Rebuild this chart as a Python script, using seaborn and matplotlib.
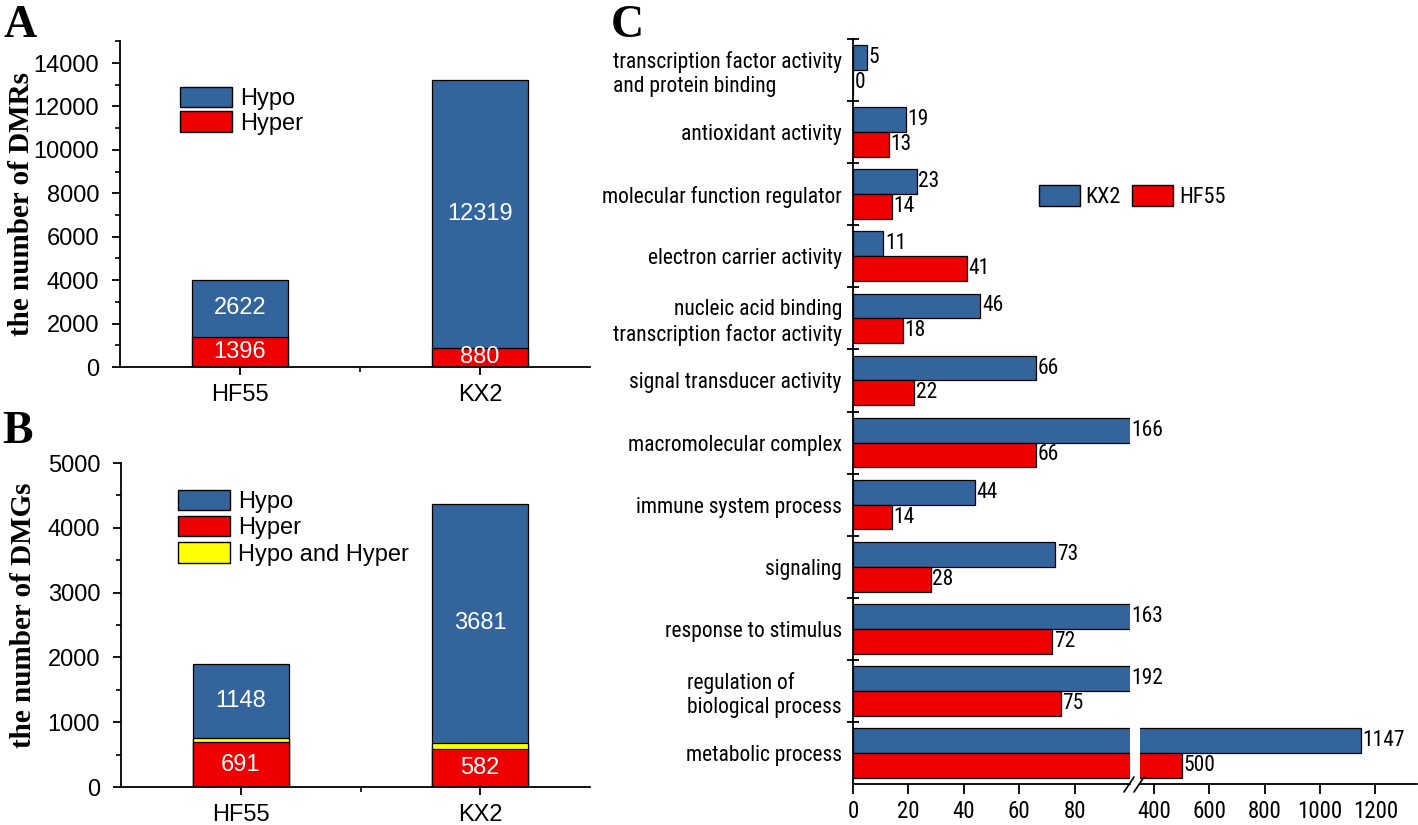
import matplotlib
matplotlib.use('Agg')
import matplotlib.pyplot as plt
import seaborn as sns
import pandas as pd
from matplotlib import font_manager
from matplotlib.font_manager import FontProperties
from matplotlib.patches import Patch
from matplotlib.lines import Line2D
from matplotlib.ticker import MultipleLocator, FixedLocator

sns.set_theme(style='ticks')
plt.rcParams['font.family'] = ['Liberation Sans', 'DejaVu Sans']
for k in ['text.color', 'axes.labelcolor', 'xtick.color', 'ytick.color', 'axes.edgecolor']:
    plt.rcParams[k] = 'black'

# ---------------- data ----------------
samples = ['HF55', 'KX2']
dmr_hypo = [2622, 12319]
dmr_hyper = [1396, 880]

dmg_hypo = [1148, 3681]
dmg_hyper = [691, 582]
dmg_both = [58, 104]

go_terms = [
    'transcription factor activity\nand protein binding',
    'antioxidant activity',
    'molecular function regulator',
    'electron carrier activity',
    'nucleic acid binding\ntranscription factor activity',
    'signal transducer activity',
    'macromolecular complex',
    'immune system process',
    'signaling',
    'response to stimulus',
    'regulation of\nbiological process',
    'metabolic process',
]
go_kx2 = [5, 19, 23, 11, 46, 66, 166, 44, 73, 163, 192, 1147]
go_hf55 = [0, 13, 14, 41, 18, 22, 66, 14, 28, 72, 75, 500]

BLUE = '#34649c'
RED = '#ee0000'
YELLOW = '#ffff00'
SERIF = ['Liberation Serif', 'DejaVu Serif']
FS = 17


# choose a narrow sans font for panel C if one is installed
def pick_narrow():
    prefs = ['liberationsansnarrow-regular', 'arialnarrow', 'arialn.ttf',
             'robotocondensed-regular', 'notosans-condensed.ttf', 'notosans-condensed-regular',
             'opensans_condensed-regular', 'opensans-condensedregular', 'dejavusanscondensed.ttf']
    files = [f.fname for f in font_manager.fontManager.ttflist]
    for p in prefs:
        for fn in files:
            if p in fn.lower().replace(' ', ''):
                return fn
    for fn in files:
        low = fn.lower()
        if ('narrow' in low or 'condensed' in low) and 'bold' not in low and 'italic' not in low \
                and 'semi' not in low and 'extra' not in low and 'light' not in low \
                and 'mono' not in low and 'serif' not in low and 'cjk' not in low \
                and 'medium' not in low and 'thin' not in low and 'black' not in low:
            return fn
    return None


narrow_file = pick_narrow()
if narrow_file:
    CFONT = FontProperties(fname=narrow_file, size=15.5)     # category labels
    CTICK = FontProperties(fname=narrow_file, size=16.5)     # x tick labels
    CVAL = FontProperties(fname=narrow_file, size=15.5)      # value labels
    CLEG = FontProperties(fname=narrow_file, size=16)        # legend
else:
    CFONT = FontProperties(family='Liberation Sans', size=13)
    CTICK = FontProperties(family='Liberation Sans', size=14)
    CVAL = FontProperties(family='Liberation Sans', size=13)
    CLEG = FontProperties(family='Liberation Sans', size=13.5)

W, H = 1418, 825
fig = plt.figure(figsize=(W / 100, H / 100), dpi=100)


def px_axes(l, t, r, b):
    return fig.add_axes([l / W, 1 - b / H, (r - l) / W, (b - t) / H])


def style_stack_axes(ax, ymax, major, minor):
    ax.set_xlim(-0.5, 1.458)
    ax.set_ylim(0, ymax)
    ax.set_xticks([0, 1], labels=samples)
    ax.xaxis.set_minor_locator(FixedLocator([0.5]))
    ax.yaxis.set_major_locator(MultipleLocator(major))
    ax.yaxis.set_minor_locator(MultipleLocator(minor))
    ax.set_xlabel('')
    sns.despine(ax=ax)
    for s in ['left', 'bottom']:
        ax.spines[s].set_linewidth(1.3)
        ax.spines[s].set_color('black')
    ax.tick_params(axis='both', which='major', direction='out', length=6,
                   width=1.3, color='black', labelsize=FS, labelcolor='black')
    ax.tick_params(axis='y', which='major', pad=9)
    ax.tick_params(axis='x', which='major', pad=6)
    ax.tick_params(axis='both', which='minor', direction='out', length=3.5,
                   width=1.2, color='black')


# ---------------- panel A ----------------
axA = px_axes(120, 41.3, 590, 367)
dmr_total = [a + b for a, b in zip(dmr_hypo, dmr_hyper)]
sns.barplot(x=samples, y=dmr_total, color=BLUE, saturation=1, width=0.4,
            edgecolor='black', linewidth=0.9, ax=axA)
sns.barplot(x=samples, y=dmr_hyper, color=RED, saturation=1, width=0.4,
            edgecolor='black', linewidth=0.9, ax=axA)
for i in range(2):
    axA.text(i, dmr_hyper[i] / 2, str(dmr_hyper[i]), color='white',
             ha='center', va='center', fontsize=FS)
    axA.text(i, dmr_hyper[i] + dmr_hypo[i] / 2, str(dmr_hypo[i]), color='white',
             ha='center', va='center', fontsize=FS)
style_stack_axes(axA, 15000, 2000, 1000)
axA.set_ylabel('the number of DMRs', fontfamily=SERIF, fontweight='bold',
               fontsize=21, color='black')
axA.yaxis.set_label_coords(-0.18, 0.5)
axA.legend(handles=[Patch(facecolor=BLUE, edgecolor='black', linewidth=1, label='Hypo'),
                    Patch(facecolor=RED, edgecolor='black', linewidth=1, label='Hyper')],
           loc='upper left', bbox_to_anchor=((180 - 120) / 470, (367 - 87) / 325.7),
           frameon=False, borderpad=0, borderaxespad=0, handlelength=2.2,
           handleheight=0.95, handletextpad=0.35, labelspacing=0.05, fontsize=FS)

# ---------------- panel B ----------------
axB = px_axes(121, 463, 590, 787)
dmg_mid = [a + b for a, b in zip(dmg_hyper, dmg_both)]
dmg_total = [a + b for a, b in zip(dmg_mid, dmg_hypo)]
sns.barplot(x=samples, y=dmg_total, color=BLUE, saturation=1, width=0.4,
            edgecolor='black', linewidth=0.9, ax=axB)
sns.barplot(x=samples, y=dmg_mid, color=YELLOW, saturation=1, width=0.4,
            edgecolor='black', linewidth=0.9, ax=axB)
sns.barplot(x=samples, y=dmg_hyper, color=RED, saturation=1, width=0.4,
            edgecolor='black', linewidth=0.9, ax=axB)
for i in range(2):
    axB.text(i, dmg_hyper[i] / 2, str(dmg_hyper[i]), color='white',
             ha='center', va='center', fontsize=FS)
    axB.text(i, dmg_mid[i] + dmg_hypo[i] / 2, str(dmg_hypo[i]), color='white',
             ha='center', va='center', fontsize=FS)
style_stack_axes(axB, 5000, 1000, 500)
axB.set_ylabel('the number of DMGs', fontfamily=SERIF, fontweight='bold',
               fontsize=21, color='black')
axB.yaxis.set_label_coords(-0.18, 0.53)
axB.legend(handles=[Patch(facecolor=BLUE, edgecolor='black', linewidth=1, label='Hypo'),
                    Patch(facecolor=RED, edgecolor='black', linewidth=1, label='Hyper'),
                    Patch(facecolor=YELLOW, edgecolor='black', linewidth=1, label='Hypo and Hyper')],
           loc='upper left', bbox_to_anchor=((178 - 121) / 469, (787 - 490) / 324),
           frameon=False, borderpad=0, borderaxespad=0, handlelength=2.2,
           handleheight=0.95, handletextpad=0.35, labelspacing=0.12, fontsize=FS)

# ---------------- panel C (broken axis) ----------------
df = pd.DataFrame({
    'term': go_terms * 2,
    'count': go_kx2 + go_hf55,
    'sample': ['KX2'] * len(go_terms) + ['HF55'] * len(go_terms),
})
axL = px_axes(853, 39, 1130, 784)
axR = px_axes(1140, 39, 1417, 784)
for ax in (axL, axR):
    sns.barplot(data=df, y='term', x='count', hue='sample', hue_order=['KX2', 'HF55'],
                palette=[BLUE, RED], orient='h', saturation=1, width=0.8,
                edgecolor='black', linewidth=0.9, ax=ax, legend=False)
    ax.set_ylim(len(go_terms) - 0.5, -0.5)
    ax.set_xlabel('')
    ax.set_ylabel('')
    sns.despine(ax=ax)
    ax.patch.set_alpha(0)
    ax.spines['bottom'].set_linewidth(1.3)
    ax.spines['bottom'].set_color('black')
    ax.tick_params(axis='x', which='major', direction='out', length=7.5, width=1.3,
                   color='black', labelcolor='black', pad=4)

axL.set_xlim(0, 100)
axL.set_xticks([0, 20, 40, 60, 80])
axR.set_xlim(350, 1350)
axR.set_xticks([400, 600, 800, 1000, 1200])

axL.spines['left'].set_linewidth(1.3)
axL.spines['left'].set_color('black')
axL.set_yticks(range(len(go_terms)), labels=go_terms)
axL.yaxis.set_minor_locator(FixedLocator([i - 0.5 for i in range(len(go_terms))]))
axL.tick_params(axis='y', which='major', length=0, pad=8, labelcolor='black')
axL.tick_params(axis='y', which='minor', direction='inout', length=8, width=1.3,
                color='black')
for lbl, term in zip(axL.get_yticklabels(), go_terms):
    lbl.set_fontproperties(CFONT)
    if term.startswith('transcription factor activity') or term.startswith('regulation'):
        lbl.set_multialignment('left')
    else:
        lbl.set_multialignment('right')
for ax in (axL, axR):
    for lbl in ax.get_xticklabels():
        lbl.set_fontproperties(CTICK)

axR.spines['left'].set_visible(False)
axR.tick_params(axis='y', which='both', left=False, labelleft=False)

LEFT_MAX = 100
RIGHT_MIN = 350
for i in range(len(go_terms)):
    for v, dy in ((go_kx2[i], -0.2), (go_hf55[i], 0.2)):
        target = axR if v > RIGHT_MIN else axL
        xv = v if v > RIGHT_MIN else min(v, LEFT_MAX)
        target.annotate(str(v), xy=(xv, i + dy), xytext=(1.2, 0), textcoords='offset points',
                        ha='left', va='center', fontproperties=CVAL,
                        color='black', annotation_clip=False, zorder=5)

# break marks
for x0 in (1124, 1134):
    fig.add_artist(Line2D([x0 / W, (x0 + 10) / W], [1 - 792 / H, 1 - 777 / H],
                          transform=fig.transFigure, color='black', linewidth=1.2))

fig.legend(handles=[Patch(facecolor=BLUE, edgecolor='black', linewidth=1, label='KX2'),
                    Patch(facecolor=RED, edgecolor='black', linewidth=1, label='HF55')],
           loc='upper left', bbox_to_anchor=(1039 / W, 1 - 185 / H), ncol=2,
           frameon=False, borderpad=0, borderaxespad=0, handlelength=1.85,
           handleheight=1.05, handletextpad=0.25, columnspacing=0.5,
           prop=CLEG)

# panel letters
fig.text(4 / W, 1 - 37 / H, 'A', fontfamily=SERIF, fontweight='bold', fontsize=33,
         ha='left', va='baseline')
fig.text(2 / W, 1 - 443 / H, 'B', fontfamily=SERIF, fontweight='bold', fontsize=33,
         ha='left', va='baseline')
fig.text(611 / W, 1 - 37 / H, 'C', fontfamily=SERIF, fontweight='bold', fontsize=33,
         ha='left', va='baseline')

fig.savefig('out.png', dpi=100, facecolor='white')
